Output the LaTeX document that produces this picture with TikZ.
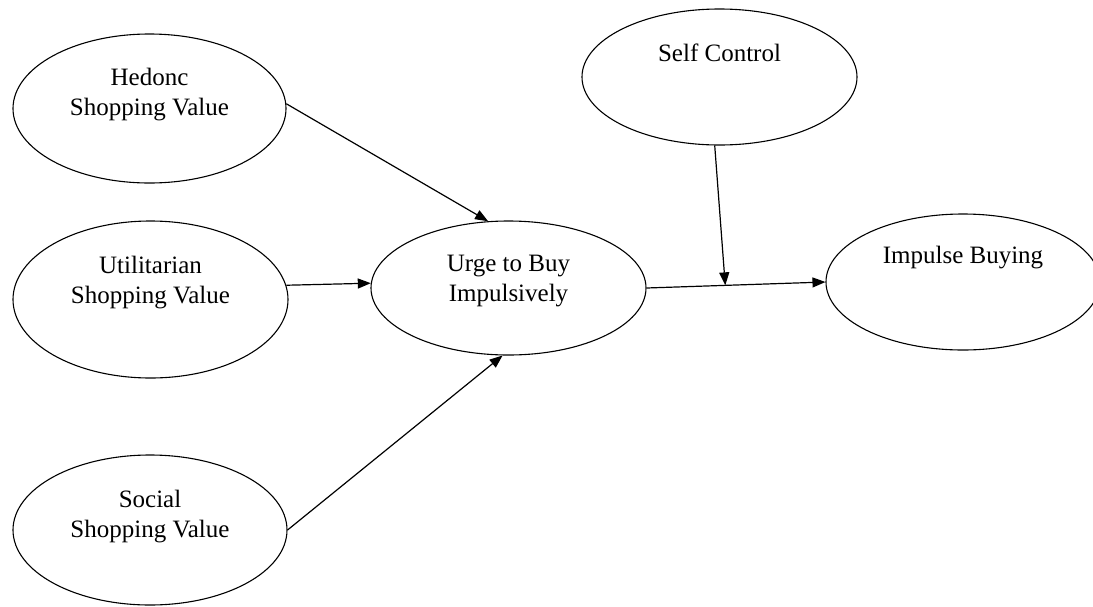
\documentclass[tikz,border=0pt]{standalone}
\usepackage{fontspec}
\setmainfont{Liberation Serif}
\usetikzlibrary{shapes.geometric,arrows.meta,calc}
\begin{document}
\begin{tikzpicture}[x=1pt,y=-1pt,
  oval/.style={draw, ellipse, line width=1.1pt, inner sep=0pt, minimum width=275pt, minimum height=#1},
  oval/.default=140pt,
  txt/.style={align=center, font=\fontsize{25}{30}\selectfont, inner sep=0pt},
  conn/.style={line width=1.2pt, -{Triangle[length=13pt,width=10pt]}}]
\clip (0,0) rectangle (1093,606);
\fill[white] (0,0) rectangle (1093,606);
% ellipses
\node[oval=149pt, minimum width=273pt] (hed) at (149.5,108.5) {};
\node[oval=157pt, minimum width=275pt] (util) at (150.5,299.5) {};
\node[oval=150pt, minimum width=274pt] (soc) at (150,530) {};
\node[oval=134pt, minimum width=275pt] (urge) at (508.5,288) {};
\node[oval=136pt, minimum width=275pt] (self) at (719.5,77) {};
\node[oval=136pt, minimum width=274pt] (imp) at (963,282) {};
% texts
\node[txt] at ($(hed)+(0,-13.5)$) {Hedonc\\Shopping Value};
\node[txt] at ($(util)+(0,-17)$) {Utilitarian\\Shopping Value};
\node[txt] at ($(soc)+(0,-13)$) {Social\\Shopping Value};
\node[txt] at ($(urge)+(0,-7)$) {Urge to Buy\\Impulsively};
\node[txt] at ($(self)+(0,-24)$) {Self Control};
\node[txt] at ($(imp)+(0,-24)$) {Impulse Buying};
% connectors
\draw[conn] (hed.2) -- (urge.107);
\draw[conn] (util.6) -- (urge.178);
\draw[conn] (soc.east) -- (urge.265);
\draw[conn] (urge.east) -- (imp.west);
\coordinate (mod) at ($(urge.east)!0.44!(imp.west)$);
\draw[conn] (self.266) -- (mod);
\end{tikzpicture}
\end{document}
